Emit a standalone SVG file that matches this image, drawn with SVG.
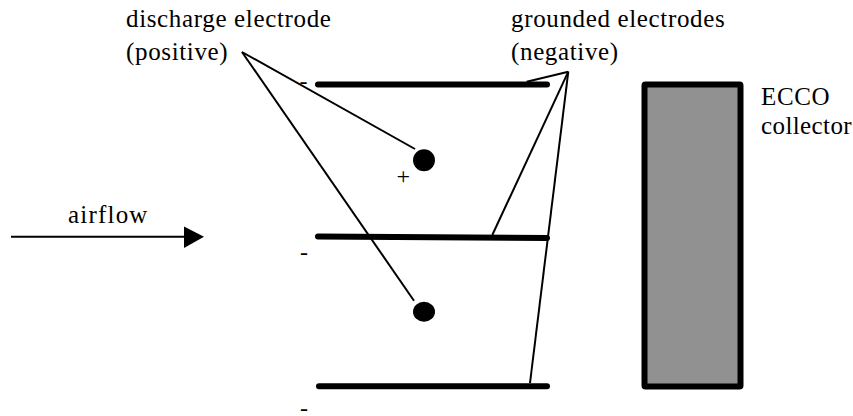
<svg xmlns="http://www.w3.org/2000/svg" width="853" height="416" viewBox="0 0 853 416">
<style>
text{font-family:"Liberation Serif","Times New Roman",serif;font-size:25px;letter-spacing:.65px;fill:#000}
.el{stroke:#000;stroke-width:6;stroke-linecap:round;fill:none}
.ln{stroke:#000;stroke-width:2;fill:none}
.sign{font-size:24px;letter-spacing:0}
</style>
<rect width="853" height="416" fill="#fff"/>
<g id="connectors">
<path class="ln" d="M242 52L415 149"/>
<path class="ln" d="M242 52L414 300.7"/>
<path class="ln" d="M568.3 71.7L526.7 81.7"/>
<path class="ln" d="M568.3 71.7L492.3 235"/>
<path class="ln" d="M568.3 71.7L530 383"/>
<path class="ln" d="M11 236.7H185"/>
<polygon points="184,226.5 204,236.7 184,248"/>
</g>
<g id="electrode-top"><path class="el" d="M318 84.5H547"/><text class="sign" x="299.5" y="89">-</text></g>
<g id="electrode-middle"><path class="el" d="M318 236.5L547 238"/><text class="sign" x="300" y="260">-</text></g>
<g id="electrode-bottom"><path class="el" d="M319 386.3H547"/><text class="sign" x="300" y="416">-</text></g>
<g id="discharge-1"><ellipse cx="424" cy="160.3" rx="11" ry="11"/><text class="sign" x="396.5" y="184">+</text></g>
<g id="discharge-2"><ellipse cx="424" cy="311.7" rx="11" ry="10"/></g>
<g id="collector"><rect x="644.5" y="84.5" width="96" height="302" rx="1" fill="#919191" stroke="#000" stroke-width="6" stroke-linejoin="round"/></g>
<g id="label-discharge"><text x="126" y="27">discharge electrode</text><text x="126" y="60">(positive)</text></g>
<g id="label-grounded"><text x="511" y="27">grounded electrodes</text><text x="511" y="60">(negative)</text></g>
<g id="label-ecco"><text x="761" y="105">ECCO</text><text x="761" y="134" style="letter-spacing:.4px">collector</text></g>
<g id="label-airflow"><text x="68" y="223" style="letter-spacing:1.2px">airflow</text></g>
</svg>
